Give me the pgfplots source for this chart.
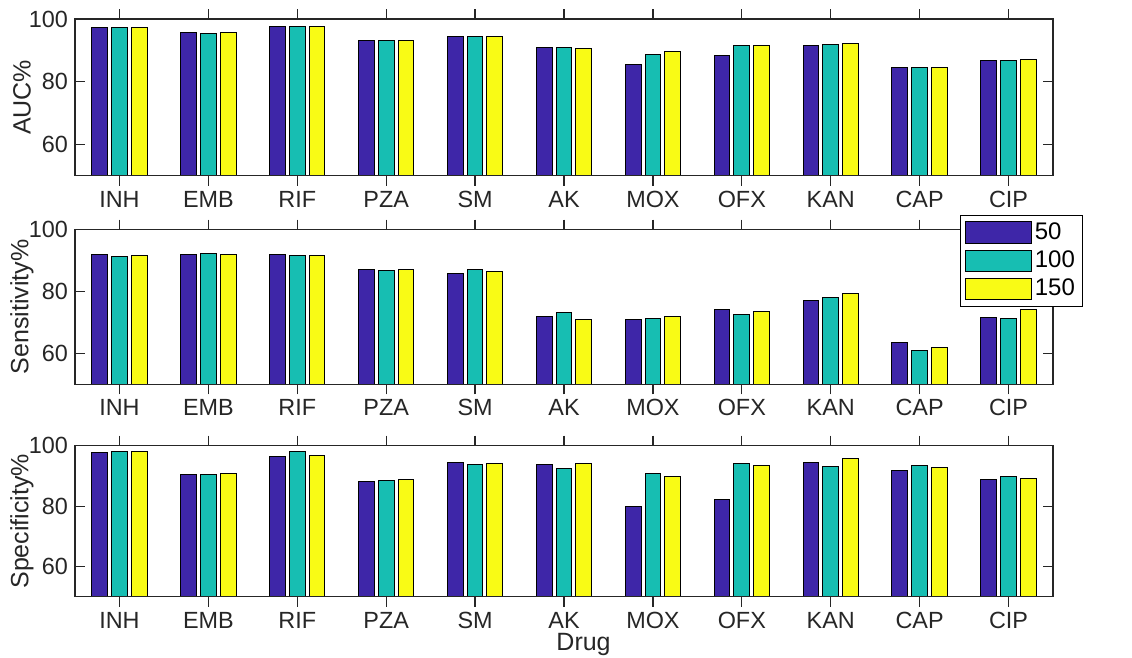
\documentclass[border=0pt]{standalone}
\usepackage{fontspec}
\setmainfont{Liberation Sans}
\usepackage{pgfplots}
\pgfplotsset{compat=1.18}

\definecolor{cA}{RGB}{62,38,168}
\definecolor{cB}{RGB}{23,190,178}
\definecolor{cC}{RGB}{249,251,21}
\definecolor{axc}{RGB}{38,38,38}

\pgfplotsset{
  panel/.style={
    scale only axis, width=489pt,
    xmin=0.5, xmax=11.5, ymin=50, ymax=100,
    xtick={1,...,11},
    xticklabels={INH,EMB,RIF,PZA,SM,AK,MOX,OFX,KAN,CAP,CIP},
    ytick={60,80,100},
    tick align=inside,
    tick pos=both,
    axis on top=true,
    major tick length=5pt,
    axis line style={axc, line width=0.6pt},
    every tick/.style={axc, line width=0.6pt},
    tick label style={font=\fontsize{11.7}{14}\selectfont, text=axc},
    xticklabel style={text height=8.4pt, text depth=0pt, anchor=north},
    label style={font=\fontsize{12.5}{15}\selectfont, text=axc},
    xticklabel shift=-1.2pt,
    /pgf/number format/assume math mode=true,
    ybar,
    ylabel style={at={(axis description cs:-0.0542,0.5)}, anchor=center},
    legend image code/.code={\draw[##1] (0pt,-5.4pt) rectangle (33pt,5.4pt);},
  },
  b1/.style={fill=cA, draw=black, line width=0.5pt, bar width=0.1778, bar shift=-0.2222},
  b2/.style={fill=cB, draw=black, line width=0.5pt, bar width=0.1778, bar shift=0},
  b3/.style={fill=cC, draw=black, line width=0.5pt, bar width=0.1778, bar shift=0.2222},
}

\begin{document}
\begin{tikzpicture}
\useasboundingbox (0,0) rectangle (566pt,-329pt);

% AUC
\begin{axis}[panel, at={(37.5pt,-87.85pt)}, anchor=south west, height=78.35pt, ylabel={AUC\%}]
\addplot[b1] coordinates {(1,97.2) (2,95.7) (3,97.6) (4,93.1) (5,94.5) (6,90.9) (7,85.4) (8,88.2) (9,91.6) (10,84.6) (11,86.8)};
\addplot[b2] coordinates {(1,97.2) (2,95.5) (3,97.7) (4,93.0) (5,94.4) (6,91.0) (7,88.8) (8,91.7) (9,91.9) (10,84.4) (11,86.6)};
\addplot[b3] coordinates {(1,97.2) (2,95.7) (3,97.7) (4,93.1) (5,94.5) (6,90.7) (7,89.6) (8,91.4) (9,92.2) (10,84.4) (11,87.2)};
\end{axis}

% Sensitivity
\begin{axis}[panel, at={(37.5pt,-192.15pt)}, anchor=south west, height=77.3pt, ylabel={Sensitivity\%},
  legend style={at={(axis description cs:0.905,1.095)}, anchor=north west, draw=black, fill=white,
    font=\fontsize{12}{14}\selectfont, inner sep=2.2pt, nodes={inner sep=1.5pt}, row sep=1.2pt, cells={anchor=west}}]
\addplot[b1] coordinates {(1,91.9) (2,91.9) (3,91.9) (4,87.2) (5,85.8) (6,71.8) (7,71.1) (8,74.2) (9,77.2) (10,63.4) (11,71.7)};
\addplot[b2] coordinates {(1,91.2) (2,92.2) (3,91.6) (4,86.7) (5,87.0) (6,73.3) (7,71.2) (8,72.6) (9,78.2) (10,60.9) (11,71.2)};
\addplot[b3] coordinates {(1,91.6) (2,92.0) (3,91.7) (4,87.2) (5,86.4) (6,70.8) (7,72.0) (8,73.5) (9,79.4) (10,61.9) (11,74.2)};
\legend{50,100,150}
\end{axis}

% Specificity
\begin{axis}[panel, at={(37.5pt,-298.35pt)}, anchor=south west, height=75.5pt, ylabel={Specificity\%},
  xlabel={Drug}, xlabel style={at={(axis description cs:0.52,0)}, anchor=base, inner sep=0pt, yshift=-27pt}]
\addplot[b1] coordinates {(1,97.9) (2,90.6) (3,96.5) (4,88.1) (5,94.4) (6,93.8) (7,79.8) (8,82.2) (9,94.3) (10,91.7) (11,88.7)};
\addplot[b2] coordinates {(1,98.2) (2,90.5) (3,98.2) (4,88.5) (5,93.8) (6,92.5) (7,90.8) (8,94.2) (9,93.1) (10,93.4) (11,89.7)};
\addplot[b3] coordinates {(1,98.2) (2,90.7) (3,96.9) (4,88.7) (5,94.0) (6,94.2) (7,89.8) (8,93.3) (9,95.8) (10,92.9) (11,89.3)};
\end{axis}
\end{tikzpicture}
\end{document}
